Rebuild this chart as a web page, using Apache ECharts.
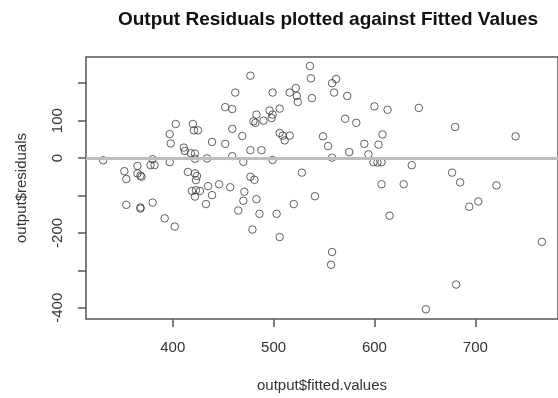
<!DOCTYPE html>
<html>
<head>
<meta charset="utf-8">
<script src="https://cdn.jsdelivr.net/npm/echarts@6/dist/echarts.min.js"></script>
<style>
  html, body { margin: 0; padding: 0; background: #fff; }
  #residPlot { width: 558px; height: 398px; }
</style>
</head>
<body>
<div id="residPlot"></div>
<script>
// values
var fittedValues = [
  331, 352, 354, 354, 365, 365, 369, 368, 368, 368,
  380, 378, 382, 380, 392, 397, 398, 397, 402, 403,
  411, 412, 418, 422, 422, 415, 420, 421, 425, 422,
  424, 423, 419, 423, 427, 422, 434, 435, 439, 439,
  433, 446, 452, 459, 452, 459, 459, 457, 462, 465,
  469, 470, 471, 470, 477, 477, 477, 481, 483, 480,
  482, 483, 479, 486, 488, 490, 496, 499, 498, 499,
  499, 503, 506, 506, 509, 511, 516, 506, 516, 522,
  523, 524, 520, 528, 536, 537, 538, 541, 549, 554,
  558, 562, 560, 558, 558, 557, 571, 573, 575, 582,
  590, 594, 600, 604, 599, 603, 607, 607, 608, 613,
  615, 629, 637, 644, 651, 677, 680, 681, 685, 694,
  703, 721, 740, 766
];
var residuals = [
  -6, -35, -56, -125, -21, -41, -50, -47, -132, -135,
  -3, -19, -19, -119, -161, -11, 39, 64, -183, 91,
  28, 19, 13, 12, -2, -37, 91, 74, 74, -41,
  -48, -59, -88, -86, -88, -103, -1, -75, 43, -99,
  -123, -70, 136, 131, 38, 78, 5, -78, 175, -140,
  59, -10, -90, -114, 220, 21, -50, -58, 116, 98,
  94, -110, -191, -149, 21, 100, 127, 116, 107, 175,
  -5, -149, 132, 67, 60, 47, 60, -211, 175, 187,
  166, 150, -123, -39, 246, 213, 160, -102, 58, 32,
  200, 211, 175, 1, -251, -285, 105, 166, 16, 94,
  38, 10, 138, 36, -11, -12, -11, -70, 63, 129,
  -154, -70, -19, 134, -404, -39, 83, -338, -65, -130,
  -116, -73, 58, -224
];
var xTicks = [400, 500, 600, 700];
var yTicks = [-400, -300, -200, -100, 0, 100, 200];
var yLabels = [-400, -200, 0, 100];

var myChart = echarts.init(document.getElementById('residPlot'));

var points = fittedValues.map(function (v, i) {
  return [v, residuals[i]];
});

var fontFam = '"Liberation Sans", Arial, sans-serif';

var option = {
  animation: false,
  backgroundColor: '#fff',
  title: {
    text: 'Output Residuals plotted against Fitted Values',
    left: 328,
    top: 10,
    padding: 0,
    textAlign: 'center',
    textStyle: { fontFamily: fontFam, fontSize: 19, fontWeight: 'bold', color: '#111' }
  },
  grid: {
    left: 86, right: -10, top: 57, bottom: 77,
    show: true, borderColor: '#555', borderWidth: 1.5
  },
  xAxis: {
    type: 'value',
    min: 314, max: 782,
    name: 'output$fitted.values',
    nameLocation: 'middle',
    nameGap: 59,
    nameTextStyle: { fontFamily: fontFam, fontSize: 15, color: '#333' },
    axisLine: { show: false, onZero: false },
    axisTick: { show: true, length: 8, customValues: xTicks, lineStyle: { color: '#555', width: 1.5 } },
    axisLabel: { customValues: xTicks, margin: 21, fontFamily: fontFam, fontSize: 15, color: '#333' },
    splitLine: { show: false }
  },
  yAxis: {
    type: 'value',
    min: -430, max: 270,
    name: 'output$residuals',
    nameLocation: 'middle',
    nameGap: 57,
    nameTextStyle: { fontFamily: fontFam, fontSize: 15, color: '#333' },
    axisLine: { show: false, onZero: false },
    axisTick: { show: true, length: 8, customValues: yTicks, lineStyle: { color: '#555', width: 1.5 } },
    axisLabel: { customValues: yLabels, rotate: 90, margin: 21, fontFamily: fontFam, fontSize: 15, color: '#333' },
    splitLine: { show: false }
  },
  series: [{
    type: 'scatter',
    data: points,
    symbol: 'circle',
    symbolSize: 7.5,
    itemStyle: { color: 'rgba(0,0,0,0)', borderColor: '#3a3a3a', borderWidth: 1 },
    markLine: {
      silent: true,
      symbol: 'none',
      label: { show: false },
      lineStyle: { color: '#bdbdbd', width: 3, type: 'solid' },
      data: [{ yAxis: 0 }]
    }
  }]
};

myChart.setOption(option);
</script>
</body>
</html>
